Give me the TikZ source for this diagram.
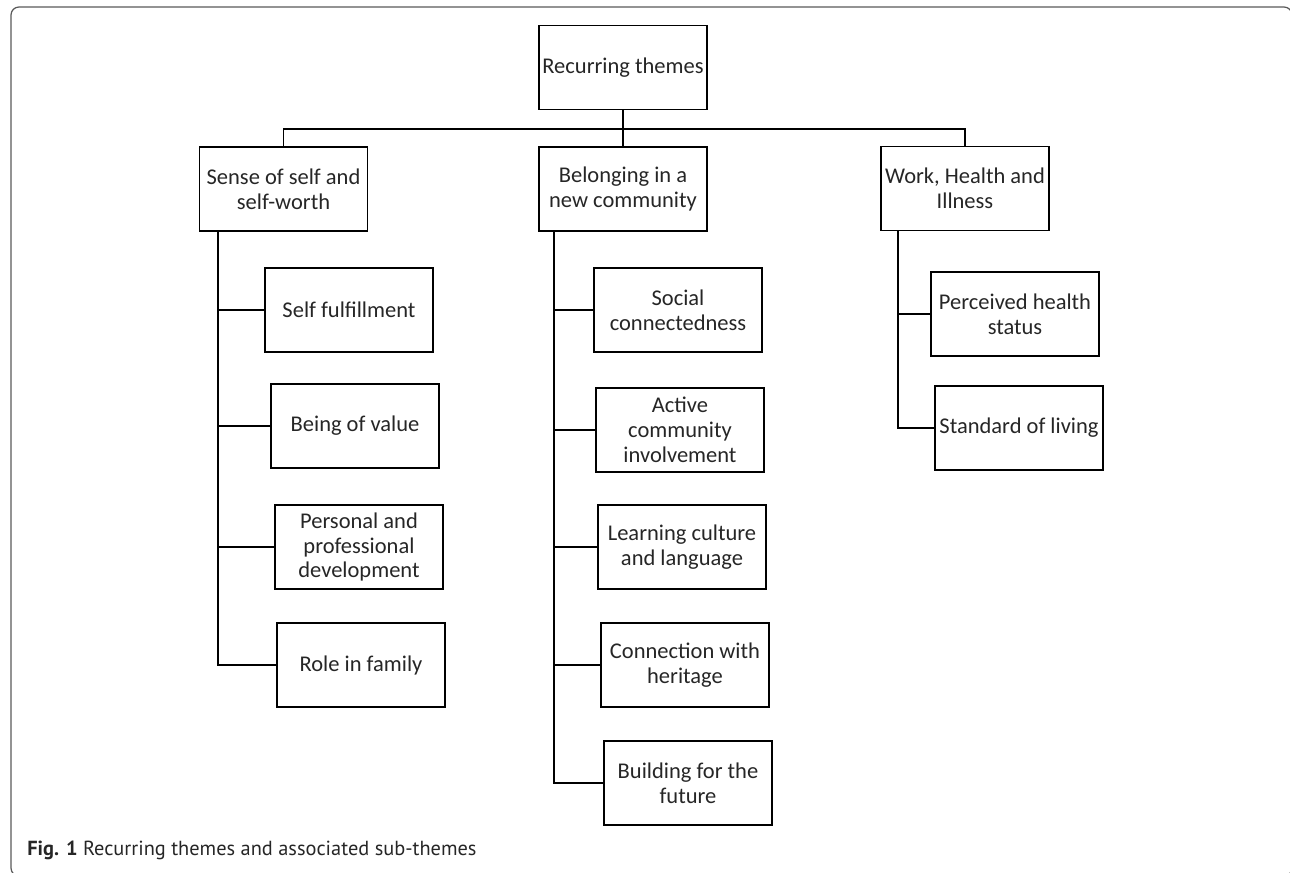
\documentclass[tikz,border=0pt]{standalone}
\usepackage{fontspec}
\setmainfont{Carlito}
\newfontfamily\capfont{PT Sans}
\usetikzlibrary{positioning}

\tikzset{
  theme/.style={draw, line width=1.1pt, minimum width=3.36cm, minimum height=1.68cm,
    inner sep=0pt, align=center, text=black!85, font=\fontsize{12.8}{14.2}\selectfont},
  link/.style={line width=1.1pt},
  thinlink/.style={line width=0.6pt},
}

\begin{document}
\begin{tikzpicture}
    \useasboundingbox (0,0) rectangle (25.8,-17.46);
    % Frame
    \begin{scope}
        \clip (0,0) rectangle (25.8,-17.46);
        \draw[black!65, line width=0.7pt, rounded corners=0.16cm] (0.22,-0.14) rectangle (25.84,-17.52);
    \end{scope}

    % Top level
    \node[theme] (root) at (12.46,-1.35) {Recurring themes};
    \node[theme] (sense) at (5.67,-3.78) {Sense of self and\\self-worth};
    \node[theme] (belong) at (12.46,-3.78) {Belonging in a\\new community};
    \node[theme] (work) at (19.30,-3.77) {Work, Health and\\Illness};

    % Sub-themes
    \node[theme] (fulfil) at (6.98,-6.20) {Self fulfillment};
    \node[theme] (value) at (7.10,-8.52) {Being of value};
    \node[theme] (develop) at (7.18,-10.94) {Personal and\\professional\\development};
    \node[theme] (family) at (7.22,-13.30) {Role in family};

    \node[theme] (social) at (13.56,-6.20) {Social\\connectedness};
    \node[theme] (involve) at (13.60,-8.60) {Active\\community\\involvement};
    \node[theme] (culture) at (13.64,-10.94) {Learning culture\\and language};
    \node[theme] (heritage) at (13.70,-13.30) {Connection with\\heritage};
    \node[theme] (future) at (13.76,-15.66) {Building for the\\future};

    \node[theme] (healthstat) at (20.30,-6.28) {Perceived health\\status};
    \node[theme] (living) at (20.38,-8.56) {Standard of living};

    % Bus
    \coordinate (bus) at (12.46,-2.58);
    \draw[link] (root) -- (belong);
    \draw[link] (sense.north) |- (bus) -| (work.north);

    % Trunks
    \coordinate (ltrunk) at ([xshift=0.38cm]sense.south west);
    \coordinate (mtrunk) at ([xshift=0.32cm]belong.south west);
    \coordinate (rtrunk) at ([xshift=0.36cm]work.south west);

    \foreach \n in {fulfil,value,family}
        \draw[link] (ltrunk) |- (\n.west);
    \draw[thinlink] (ltrunk |- develop.west) -- (develop.west);

    \foreach \n in {social,involve,heritage,future}
        \draw[link] (mtrunk) |- (\n.west);
    \draw[thinlink] (mtrunk |- culture.west) -- (culture.west);

    \foreach \n in {healthstat,living}
        \draw[link] (rtrunk) |- (\n.west);

    % Caption
    \node[anchor=base west, inner sep=0pt, text=black!85, font=\capfont\fontsize{11.6}{14}\selectfont]
        (caption) at (0.54,-17.10) {\textbf{Fig. 1} Recurring themes and associated sub-themes};
\end{tikzpicture}
\end{document}
